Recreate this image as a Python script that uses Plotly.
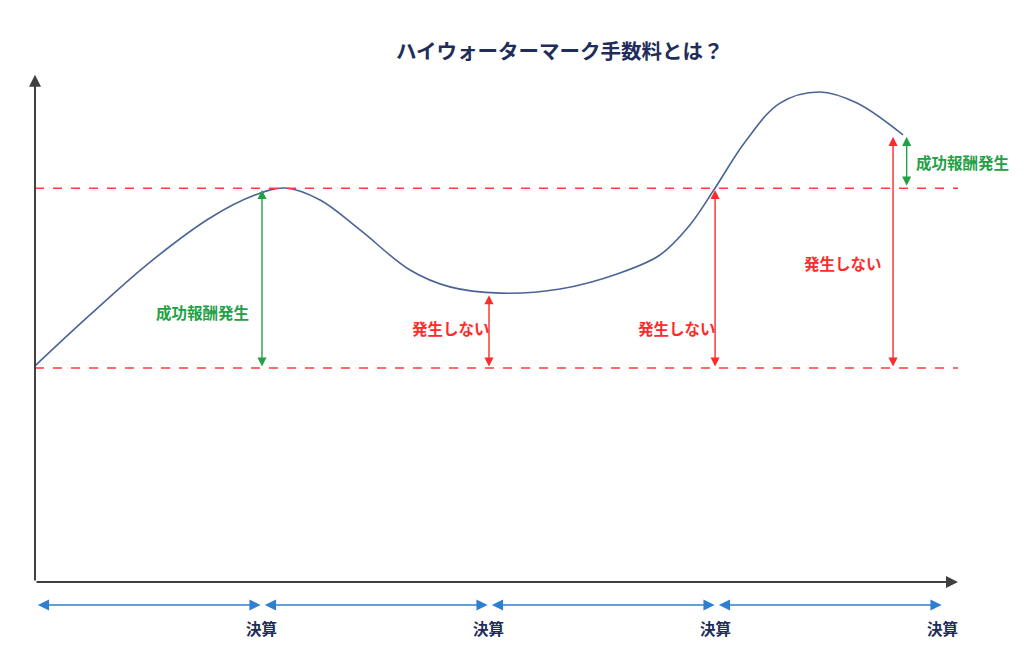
import plotly.graph_objects as go

# 基準価額の推移（模式図）
curve_x = [0, 0.242, 0.507, 0.771, 0.969, 1.101, 1.256, 1.432, 1.652, 1.828, 2.048,
           2.313, 2.577, 2.753, 2.885, 2.996, 3.128, 3.282, 3.458, 3.621, 3.824]
curve_y = [101, 124.8, 149.5, 170.1, 180.8, 184.1, 178.5, 164.5, 145.8, 137.9, 135.0,
           136.9, 144.4, 152.8, 166.8, 184.1, 205.6, 223.8, 229.0, 223.8, 208.9]

base_level = 100   # 下の点線
hwm_level = 184    # ハイウォーターマーク
x_end = 4.066
y_top = 237

settle_x = [1, 2, 3, 4]
settle_label = "決算"

# 縦矢印: (x, 下端, 上端, 色)
GREEN = "#22a045"
RED = "#ff2a2a"
v_arrows = [
    (1.0, base_level, 183.2, GREEN),
    (2.0, base_level, 134.0, RED),
    (2.996, base_level, 183.2, RED),
    (3.78, base_level, 208.0, RED),
    (3.84, 184.5, 208.0, GREEN),
]

# ラベル: (x, y, テキスト, 色)
labels = [
    (0.74, 126.2, "成功報酬発生", GREEN),
    (1.833, 118.7, "発生しない", RED),
    (2.828, 118.7, "発生しない", RED),
    (3.56, 149.0, "発生しない", RED),
    (4.084, 196.3, "成功報酬発生", GREEN),
]

FONT = "Noto Sans CJK JP"

fig = go.Figure()
fig.add_trace(go.Scatter(x=curve_x, y=curve_y, mode="lines", line=dict(color="#4a6494", width=1.6, shape="spline"),
                         hoverinfo="skip", showlegend=False))

# 点線
for lvl in [base_level, hwm_level]:
    fig.add_shape(type="line", x0=0, x1=x_end, y0=lvl, y1=lvl, xref="x", yref="y",
                  line=dict(color="#ff3b3b", width=1.3, dash="dash"))

ann = []
# 軸
ann.append(dict(x=0, y=y_top, ax=0, ay=0, xref="x", yref="y", axref="x", ayref="y", text="",
                showarrow=True, arrowhead=2, arrowsize=1.2, arrowwidth=2, arrowcolor="#404040", standoff=0))
ann.append(dict(x=x_end, y=0, ax=0, ay=0, xref="x", yref="y", axref="x", ayref="y", text="",
                showarrow=True, arrowhead=2, arrowsize=1.2, arrowwidth=2, arrowcolor="#404040", standoff=0))

for x, y0, y1, c in v_arrows:
    ann.append(dict(x=x, y=y1, ax=x, ay=y0, xref="x", yref="y", axref="x", ayref="y", text="",
                    showarrow=True, arrowhead=2, arrowside="end+start", arrowsize=1.3, arrowwidth=1.4,
                    arrowcolor=c, standoff=0, startstandoff=0))

# 決算期間の矢印
prev = [0] + settle_x[:-1]
for a, b in zip(prev, settle_x):
    ann.append(dict(x=b - 0.006, y=-10.75, ax=a + 0.006, ay=-10.75, xref="x", yref="y", axref="x", ayref="y",
                    text="", showarrow=True, arrowhead=2, arrowside="end+start", arrowsize=1.4,
                    arrowwidth=1.6, arrowcolor="#2f7fd0", standoff=0, startstandoff=0))
for sx in settle_x:
    ann.append(dict(x=sx, y=-21.5, xref="x", yref="y", text="<b>" + settle_label + "</b>", showarrow=False,
                    font=dict(family=FONT, size=15.5, color="#1f2d5a"), xanchor="center", yanchor="middle"))

for x, y, t, c in labels:
    ann.append(dict(x=x, y=y, xref="x", yref="y", text="<b>" + t + "</b>", showarrow=False,
                    font=dict(family=FONT, size=15.5, color=c), xanchor="center", yanchor="middle"))

ann.append(dict(x=2.313, y=248.6, xref="x", yref="y", text="<b>ハイウォーターマーク手数料とは？</b>", showarrow=False,
                font=dict(family=FONT, size=20.5, color="#1f2d5a"), xanchor="center", yanchor="middle"))

# ページ本体の余白 8px を見込んで 1016x650 で描く
fig.update_layout(
    width=1016, height=650,
    margin=dict(l=0, r=0, t=0, b=0),
    paper_bgcolor="white", plot_bgcolor="white",
    annotations=ann,
    xaxis=dict(range=[-0.1189, 4.3569], visible=False, fixedrange=True),
    yaxis=dict(range=[-35.51, 268.22], visible=False, fixedrange=True),
    showlegend=False,
)

fig.write_html("out.html")
